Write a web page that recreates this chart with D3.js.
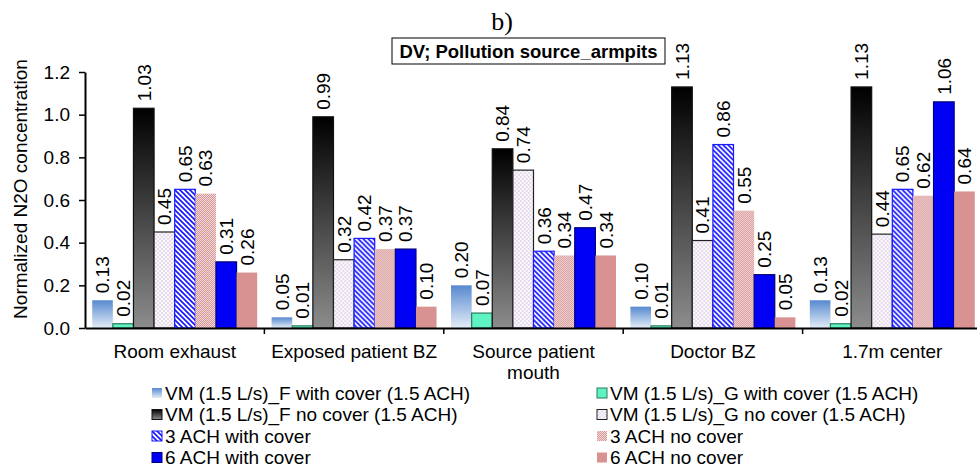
<!DOCTYPE html>
<html>
<head>
<meta charset="utf-8">
<script src="https://cdn.jsdelivr.net/npm/d3@7"></script>
<style>
  body { margin: 0; background: #fff; }
  text { font-family: 'Liberation Sans', Arial, sans-serif; }
</style>
</head>
<body>
<div id="chart"></div>
<script>
const categories = ['Room exhaust', 'Exposed patient BZ', 'Source patient mouth', 'Doctor BZ', '1.7m center'];
const seriesNames = [
  'VM (1.5 L/s)_F with cover (1.5 ACH)',
  'VM (1.5 L/s)_G with cover (1.5 ACH)',
  'VM (1.5 L/s)_F no cover (1.5 ACH)',
  'VM (1.5 L/s)_G no cover (1.5 ACH)',
  '3 ACH with cover',
  '3 ACH no cover',
  '6 ACH with cover',
  '6 ACH no cover'
];
const fWithCover = [0.13, 0.05, 0.20, 0.10, 0.13];
const gWithCover = [0.02, 0.01, 0.07, 0.01, 0.02];
const fNoCover = [1.03, 0.99, 0.84, 1.13, 1.13];
const gNoCover = [0.45, 0.32, 0.74, 0.41, 0.44];
const ach3WithCover = [0.65, 0.42, 0.36, 0.86, 0.65];
const ach3NoCover = [0.63, 0.37, 0.34, 0.55, 0.62];
const ach6WithCover = [0.31, 0.37, 0.47, 0.25, 1.06];
const ach6NoCover = [0.26, 0.10, 0.34, 0.05, 0.64];
const yTicks = [0, 0.2, 0.4, 0.6, 0.8, 1.0, 1.2];

const seriesValues = [fWithCover, gWithCover, fNoCover, gNoCover, ach3WithCover, ach3NoCover, ach6WithCover, ach6NoCover];

const draw = () => {
  const dimensions = {
    width: 977,
    height: 468,
    plotLeft: 85,
    plotRight: 982,
    plotTop: 72,
    plotBottom: 328,
    fontSize: 19
  };

  const svg = d3.select('#chart')
    .append('svg')
    .attr('width', dimensions.width)
    .attr('height', dimensions.height);

  const defs = svg.append('defs');

  const gradBlue = defs.append('linearGradient')
    .attr('id', 'gradBlue').attr('x1', 0).attr('y1', 0).attr('x2', 0).attr('y2', 1);
  gradBlue.append('stop').attr('offset', '0%').attr('stop-color', '#5789cf');
  gradBlue.append('stop').attr('offset', '100%').attr('stop-color', '#e4edf8');

  const gradBlack = defs.append('linearGradient')
    .attr('id', 'gradBlack').attr('x1', 0).attr('y1', 0).attr('x2', 0).attr('y2', 1);
  gradBlack.append('stop').attr('offset', '0%').attr('stop-color', '#000');
  gradBlack.append('stop').attr('offset', '100%').attr('stop-color', '#8c8c8c');

  const dots = defs.append('pattern')
    .attr('id', 'dots').attr('patternUnits', 'userSpaceOnUse')
    .attr('width', 4).attr('height', 4);
  dots.append('rect').attr('width', 4).attr('height', 4).attr('fill', '#fcf9fd');
  dots.append('circle').attr('cx', 1).attr('cy', 1).attr('r', 0.7).attr('fill', '#bca6ce');
  dots.append('circle').attr('cx', 3).attr('cy', 3).attr('r', 0.7).attr('fill', '#bca6ce');

  const stripes = defs.append('pattern')
    .attr('id', 'stripes').attr('patternUnits', 'userSpaceOnUse')
    .attr('width', 5).attr('height', 5);
  stripes.append('rect').attr('width', 5).attr('height', 5).attr('fill', '#fff');
  stripes.append('path')
    .attr('d', 'M0,0L5,5M-1,4L1,6M4,-1L6,1')
    .attr('stroke', '#1a1aff').attr('stroke-width', 1.7);

  // fine checker texture
  const pinkHatch = defs.append('pattern')
    .attr('id', 'pinkHatch').attr('patternUnits', 'userSpaceOnUse')
    .attr('width', 2).attr('height', 2);
  pinkHatch.append('rect').attr('width', 2).attr('height', 2).attr('fill', '#f3dada');
  pinkHatch.append('rect').attr('width', 1).attr('height', 1).attr('fill', '#d69696');
  pinkHatch.append('rect').attr('x', 1).attr('y', 1).attr('width', 1).attr('height', 1).attr('fill', '#d69696');

  const styles = [
    { fill: 'url(#gradBlue)', stroke: 'none' },
    { fill: '#5ff2c2', stroke: '#2b7a5c' },
    { fill: 'url(#gradBlack)', stroke: '#111' },
    { fill: 'url(#dots)', stroke: '#222' },
    { fill: 'url(#stripes)', stroke: '#1a1aff' },
    { fill: 'url(#pinkHatch)', stroke: 'none' },
    { fill: '#0000f5', stroke: '#00007a' },
    { fill: '#d99292', stroke: 'none' }
  ];

  const xScale = d3.scaleBand()
    .domain(categories)
    .range([dimensions.plotLeft, dimensions.plotRight])
    .paddingInner(0)
    .paddingOuter(0);

  const innerScale = d3.scaleBand()
    .domain(d3.range(seriesNames.length))
    .range([0, xScale.bandwidth()])
    .paddingInner(0)
    .paddingOuter(0.35);

  const yScale = d3.scaleLinear()
    .domain([0, 1.2])
    .range([dimensions.plotBottom, dimensions.plotTop]);

  // bars
  const groups = svg.append('g')
    .selectAll('g')
    .data(categories)
    .join('g')
    .attr('transform', (d) => `translate(${xScale(d)},0)`);

  const bars = groups.selectAll('g')
    .data((d, ci) => seriesValues.map((vals, si) => ({ si, value: vals[ci] })))
    .join('g');

  bars.append('rect')
    .attr('x', (d) => innerScale(d.si))
    .attr('y', (d) => yScale(d.value))
    .attr('width', innerScale.bandwidth())
    .attr('height', (d) => yScale(0) - yScale(d.value))
    .attr('fill', (d) => styles[d.si].fill)
    .attr('stroke', (d) => styles[d.si].stroke)
    .attr('stroke-width', 1.2);

  bars.append('text')
    .attr('transform', (d) => `translate(${innerScale(d.si) + innerScale.bandwidth() / 2}, ${yScale(d.value) - 7}) rotate(-90)`)
    .attr('dy', '0.36em')
    .attr('font-size', dimensions.fontSize)
    .attr('fill', '#000')
    .text((d) => d.value.toFixed(2));

  // y axis
  const yAxis = d3.axisLeft(yScale)
    .tickValues(yTicks)
    .tickFormat(d3.format('.1f'))
    .tickSize(6)
    .tickSizeOuter(0);

  const yAxisGroup = svg.append('g')
    .attr('transform', `translate(${dimensions.plotLeft},0)`)
    .call(yAxis);
  yAxisGroup.select('.domain').attr('stroke', '#000').attr('stroke-width', 2);
  yAxisGroup.selectAll('.tick line').attr('stroke', '#000').attr('stroke-width', 1.5);
  yAxisGroup.selectAll('.tick text')
    .attr('font-size', dimensions.fontSize)
    .attr('font-family', "'Liberation Sans', Arial, sans-serif")
    .attr('fill', '#000')
    .attr('x', -15);

  // x axis line with category boundary ticks
  const xAxis = d3.axisBottom(xScale).tickSize(0).tickFormat('');
  const xAxisGroup = svg.append('g')
    .attr('transform', `translate(0,${dimensions.plotBottom})`)
    .call(xAxis);
  xAxisGroup.select('.domain').attr('stroke', '#000').attr('stroke-width', 2);

  xAxisGroup.selectAll('.boundary')
    .data(categories.slice(1))
    .join('line')
    .attr('class', 'boundary')
    .attr('x1', (d) => xScale(d))
    .attr('x2', (d) => xScale(d))
    .attr('y1', 0)
    .attr('y2', 6)
    .attr('stroke', '#000')
    .attr('stroke-width', 1.5);

  // category labels
  const catLabels = svg.append('g')
    .selectAll('text')
    .data(categories)
    .join('text')
    .attr('x', (d) => xScale(d) + xScale.bandwidth() / 2)
    .attr('y', 358)
    .attr('text-anchor', 'middle')
    .attr('font-size', dimensions.fontSize)
    .attr('fill', '#000');

  catLabels.each(function(d) {
    const lines = d === 'Source patient mouth' ? ['Source patient', 'mouth'] : [d];
    d3.select(this).selectAll('tspan')
      .data(lines)
      .join('tspan')
      .attr('x', xScale(d) + xScale.bandwidth() / 2)
      .attr('dy', (_, i) => (i === 0 ? 0 : 21))
      .text((t) => t);
  });

  // y axis title
  svg.append('text')
    .attr('transform', 'translate(27,189) rotate(-90)')
    .attr('text-anchor', 'middle')
    .attr('font-size', dimensions.fontSize)
    .attr('fill', '#000')
    .text('Normalized N2O concentration');

  // titles
  svg.append('text')
    .attr('x', 502)
    .attr('y', 30)
    .attr('text-anchor', 'middle')
    .attr('font-size', 26)
    .attr('fill', '#000')
    .style('font-family', "'Liberation Serif', 'Times New Roman', serif")
    .text('b)');

  svg.append('rect')
    .attr('x', 392)
    .attr('y', 38)
    .attr('width', 273)
    .attr('height', 26)
    .attr('fill', '#fff')
    .attr('stroke', '#000')
    .attr('stroke-width', 1);

  svg.append('text')
    .attr('x', 528.5)
    .attr('y', 58)
    .attr('text-anchor', 'middle')
    .attr('font-size', 18.5)
    .attr('font-weight', 'bold')
    .attr('fill', '#000')
    .text('DV; Pollution source_armpits');

  // legend
  const legendCols = [152, 597];
  const legendRows = [393, 414.5, 436, 457.5];

  const legendItems = svg.append('g')
    .selectAll('g')
    .data(seriesNames)
    .join('g')
    .attr('transform', (d, i) => `translate(${legendCols[i % 2]},${legendRows[Math.floor(i / 2)]})`);

  legendItems.append('rect')
    .attr('x', 0)
    .attr('y', -5)
    .attr('width', 10)
    .attr('height', 10)
    .attr('fill', (d, i) => styles[i].fill)
    .attr('stroke', (d, i) => styles[i].stroke)
    .attr('stroke-width', 1);

  legendItems.append('text')
    .attr('x', 13)
    .attr('y', 0)
    .attr('dy', '0.36em')
    .attr('font-size', dimensions.fontSize)
    .attr('fill', '#000')
    .text((d) => d);
};

draw();
</script>
</body>
</html>
